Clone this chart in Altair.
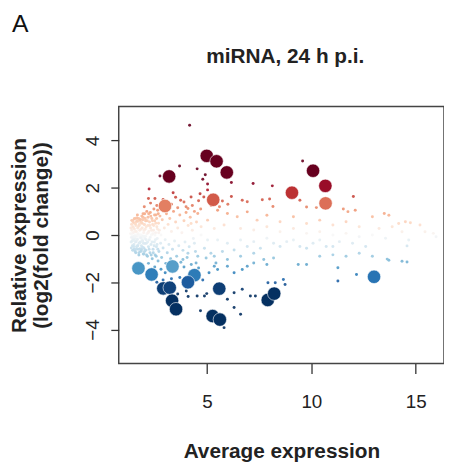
import altair as alt
import pandas as pd

# significant miRNAs (large points)
sig_x = [3.19, 4.99, 5.46, 5.95, 10.08, 10.67, 9.07, 10.68, 5.30, 2.99,
         1.72, 2.35, 3.35, 4.40, 4.09, 2.91, 3.22, 3.33, 3.52, 5.59,
         5.27, 5.62, 7.91, 8.22, 13.0]
sig_y = [2.48, 3.35, 3.12, 2.65, 2.72, 2.08, 1.79, 1.34, 1.49, 1.23,
         -1.41, -1.67, -1.33, -1.70, -2.0, -2.26, -2.23, -2.78, -3.14, -2.27,
         -3.43, -3.58, -2.75, -2.48, -1.77]

# all other miRNAs (small points)
bg_x = [4.17, 3.69, 2.75, 4.53, 4.80, 4.92, 5.03, 6.17, 7.21, 8.13, 9.58,
        2.23, 3.38, 4.67, 5.03, 4.85, 4.24, 3.74, 2.51, 6.17, 5.74, 6.69, 6.93,
        7.65, 8.00, 8.16, 9.45, 9.77, 10.24, 12.01, 11.53, 11.75, 12.1, 12.92,
        13.49, 13.71, 14.18, 14.5, 14.74, 15.2, 15.84, 15.97, 14.66, 14.58,
        13.71, 13.63, 14.58, 14.34, 12.16, 11.27, 11.27,
        5.43, 5.35, 5.51, 6.3, 6.69, 7.24, 7.72, 8.19, 8.66, 8.74, 8.27, 7.92,
        6.69, 6.3, 7.08, 7.32, 5.98, 6.3, 6.61, 4.69, 4.88, 4.99, 4.53, 4.01,
        5.82, 8.43, 9.37, 9.77, 10.4, 11.03, 11.66, 12.29, 12.92, 12.6, 11.97,
        11.34, 10.71, 10.08, 9.45, 8.82, 8.19, 7.56, 6.93, 6.3, 5.74, 5.19,
        4.88, 4.4, 4.09, 3.85, 4.48, 4.96,
        5.51, 5.98, 6.45, 6.93, 7.40, 7.87, 8.5, 9.14, 9.77, 10.4, 11.03, 11.66,
        12.29, 13.24, 13.87, 14.34, 15.44, 5.03, 4.56, 4.09, 4.24, 4.72, 5.35,
        5.82, 6.61, 7.24, 7.87, 8.5, 9.14, 9.77, 10.4, 11.03, 11.66, 12.29,
        12.92, 13.55,
        5.51, 5.98, 6.61, 7.24, 7.87, 8.5, 9.14, 9.77, 10.4, 11.03, 5.03, 4.72,
        5.35, 5.98, 6.61, 7.24, 7.87, 6.93, 5.98, 4.56,
        1.35, 1.38, 1.40, 1.42, 1.45, 1.47, 1.48, 1.50, 1.52, 1.53, 1.55, 1.57,
        1.58, 1.60, 1.62, 1.63, 1.65, 1.66, 1.68, 1.70, 1.72, 1.73, 1.75, 1.76,
        1.78, 1.80, 1.82, 1.83, 1.85, 1.86, 1.88, 1.90, 1.92, 1.93, 1.95, 1.97,
        1.98, 2.00, 2.02, 2.03, 2.05, 2.07, 2.08, 2.10, 2.12, 2.13, 2.15, 2.17,
        2.18, 2.20, 2.22, 2.24, 2.25, 2.27, 2.29, 2.30, 2.32, 2.34, 2.36, 2.38,
        2.40, 2.42, 2.44, 2.46, 2.48, 2.50, 2.52, 2.54, 2.56, 2.58, 2.60, 2.62,
        2.64, 2.66, 2.68, 2.70, 2.72, 2.75, 2.78, 2.80, 2.83, 2.86, 2.90, 2.93,
        2.96, 3.00, 3.03, 3.06, 3.10, 3.14, 3.18, 3.22, 3.26, 3.30, 3.35, 3.40,
        3.45, 3.50, 3.55, 3.60, 3.65, 3.70, 3.75, 3.80, 3.85, 3.90, 3.95, 4.00,
        4.05, 4.10, 4.15, 4.20, 4.25, 4.30, 4.35, 4.40, 4.45, 4.50,
        1.36, 1.37, 1.39, 1.41, 1.43, 1.44, 1.46, 1.49, 1.51, 1.54, 1.56, 1.59,
        1.61, 1.64, 1.67, 1.69, 1.71, 1.74, 1.77, 1.79, 1.81, 1.84, 1.87, 1.89,
        1.91, 1.94, 1.96, 1.99, 2.01, 2.04, 2.06, 2.09, 2.11, 2.14, 2.16, 2.19,
        2.21, 2.23, 2.26, 2.28, 2.31, 2.33, 2.35, 2.37, 2.39, 2.41, 2.43, 2.45,
        2.47, 2.49, 2.51, 2.53, 2.55, 2.57, 2.59, 2.61, 2.63, 2.65, 2.67, 2.69,
        2.2, 2.5, 2.8, 3.0, 3.2, 3.5, 3.7, 3.9, 4.2, 4.6, 2.9, 3.6, 4.1, 2.6,
        4.8, 5.1, 3.3,
        2.0, 2.3, 2.6, 2.9, 3.3, 3.6, 3.9, 4.3, 4.6, 2.2, 3.5, 4.0, 4.7, 5.2,
        5.6, 6.0,
        1.40, 1.46, 1.52, 1.58, 1.64, 1.70, 1.76, 1.82, 1.88, 1.94, 2.00, 2.06,
        1.43, 1.49, 1.55, 1.61, 1.67, 1.73, 1.79, 1.85, 1.91, 1.97, 2.03, 2.09,
        1.38, 1.44, 1.50, 1.56, 1.62, 1.68, 1.74, 1.80, 1.86, 1.92, 1.98, 2.04]
bg_y = [4.65, 2.92, 2.50, 2.80, 2.36, 2.55, 2.16, 2.22, 2.18, 2.08, 3.13,
        1.95, 1.79, 1.75, 1.91, 1.61, 1.61, 1.47, 1.55, 1.63, 1.44, 1.47, 1.41,
        1.49, 1.52, 1.21, 1.47, 1.19, 1.16, 1.63, 1.10, 0.99, 1.05, 0.77,
        0.91, 0.84, 0.49, 0.56, 0.52, 0.42, 0.07, -0.07, -0.21, -0.46,
        -1.07, -1.02, -1.14, -1.11, -1.67, -1.39, -1.95,
        -1.18, -1.32, -1.46, -1.6, -1.46, -1.18, -1.04, -0.97, -1.88, -2.09, -2.02, -2.02,
        -2.3, -2.44, -2.58, -2.58, -2.72, -3.07, -3.35, -3.21, -2.58, -2.48, -2.58, -2.37,
        -3.92, -2.61, -1.25, -1.25, -0.9, -0.84, -0.9, -0.77, -0.9, -0.49, -0.35,
        -0.28, -0.49, -0.35, -0.49, -0.28, -0.35, -0.56, -0.49, -0.63, -0.7, -0.77,
        -0.56, -0.35, -0.77, -1.04, -1.18, -0.97,
        1.05, 0.91, 0.77, 0.98, 0.63, 0.84, 0.56, 0.77, 0.49, 0.63, 0.42, 0.56,
        0.35, 0.28, 0.35, 0.14, 0.14, 0.63, 0.91, 1.12, 0.49, 0.35, 0.28,
        0.42, 0.28, 0.21, 0.35, 0.14, 0.28, 0.07, 0.14, 0.0, 0.07, -0.07,
        0.0, -0.14,
        -0.21, -0.35, -0.21, -0.28, -0.14, -0.49, -0.21, -0.56, -0.21, -0.49, -0.21, 0.0,
        -0.9, -1.04, -0.9, -0.77, -1.25, -1.32, -1.32, -0.9,
        0.05, -0.1, 0.2, -0.25, 0.35, 0.1, -0.05, -0.4, 0.5, 0.25, -0.15, 0.0,
        -0.3, 0.4, 0.15, -0.5, 0.6, -0.2, 0.3, 0.05, -0.6, 0.7, -0.35, 0.45,
        0.2, -0.1, -0.7, 0.55, 0.0, -0.45, 0.8, 0.3, -0.25, 0.65, -0.8, 0.1,
        -0.55, 0.45, 0.9, -0.15, 0.25, -0.65, 0.6, -0.35, 1.0, 0.05, -0.9, 0.4,
        0.75, -0.5, 0.15, -0.2, 0.55, -0.75, 0.95, 0.3, -0.4, 0.0, 0.7, -1.0,
        0.45, -0.6, 0.2, 1.1, -0.3, 0.6, -0.85, 0.1, 0.85, -0.5, 0.35, -0.15,
        1.05, -1.1, 0.5, -0.7, 0.2, 0.8, -0.35, 0.0, -0.95, 0.65, -0.55, 1.15,
        0.3, -0.2, -1.2, 0.9, -0.75, 0.45, -0.4, 0.7, -1.0, 0.15, -0.6, 1.0,
        -0.25, 0.55, -0.9, 0.3, -0.45, 0.85, -1.15, 0.1, -0.65, 0.6, -0.3, 1.2,
        -0.95, 0.4, -0.5, 0.75, -1.25, 0.2, -0.15, 1.0, -0.7, 0.55,
        0.3, -0.3, 0.45, 0.0, -0.45, 0.6, -0.2, 0.3, -0.6, 0.7, 0.15, -0.75,
        0.55, -0.05, 0.85, -0.45, 0.35, -0.85, 0.0, 0.65, -0.3, 0.25, -0.6, 0.5,
        -0.05, 0.9, -0.35, 0.2, -0.7, 0.7, -0.05, 0.35, -0.85, 0.6, -0.3, 0.1,
        0.9, -0.6, 0.4, -0.1, 0.8, -0.85, 0.2, -0.3, 0.6, 0.05, -0.75, 0.4,
        -0.45, 0.85, 0.0, -0.2, 0.5, -0.9, 0.7, -0.4, 0.25, -0.6, 0.9, 0.1,
        -1.2, -1.35, -1.45, -1.6, -1.15, -1.5, -1.8, -1.35, -1.55, -1.4, -1.9, -2.5, -2.6, -2.0,
        -1.9, -1.6, -1.85,
        1.2, 1.35, 1.25, 1.5, 1.3, 1.15, 1.4, 1.25, 1.45, 1.55, 1.6, 0.95, 1.1, 1.25,
        1.2, 1.3,
        0.62, 0.55, 0.68, 0.48, 0.72, 0.58, 0.4, 0.66, 0.52, 0.75, 0.44, 0.6,
        -0.12, -0.22, -0.08, -0.28, -0.18, -0.02, -0.32, -0.14, -0.24, -0.06, -0.36, -0.2,
        -0.55, -0.65, -0.5, -0.7, -0.6, -0.45, -0.75, -0.58, -0.68, -0.52, -0.8, -0.62]

panel_label = ["A"]
title_text = "miRNA, 24 h p.i."
x_ticks = [5, 10, 15]
y_ticks = [-4, -2, 0, 2, 4]

# RdBu palette stops (log2 fold change -> colour)
color_stops = [-2.4, -1.92, -1.44, -0.96, -0.48, 0, 0.48, 0.96, 1.44, 1.92, 2.4]
color_range = ["#053061", "#2166ac", "#4393c3", "#92c5de", "#d1e5f0", "#f7f7f7",
               "#fddbc7", "#f4a582", "#d6604d", "#b2182b", "#67001f"]

bg = pd.DataFrame({"A": bg_x, "M": bg_y})
sig = pd.DataFrame({"A": sig_x, "M": sig_y})

FONT = "Liberation Sans"
xscale = alt.Scale(domain=[0.776, 16.35], nice=False, zero=False)
yscale = alt.Scale(domain=[-5.44, 5.44], nice=False, zero=False)
cscale = alt.Scale(domain=color_stops, range=color_range, clamp=True)

xaxis = alt.Axis(values=x_ticks, title="Average expression", domain=False, grid=False,
                 tickSize=10, tickColor="#333", tickWidth=1.3, labelFontSize=19,
                 labelFont=FONT, labelColor="#222", labelPadding=19,
                 titleFontSize=21, titleFont=FONT, titleFontWeight="bold",
                 titlePadding=30, titleColor="#222")
yaxis = alt.Axis(values=y_ticks, title=["Relative expression", "(log2(fold change))"],
                 domain=False, grid=False, tickSize=8, tickColor="#333", tickWidth=1.3,
                 labelFontSize=19, labelFont=FONT, labelColor="#222", labelAngle=-90,
                 labelAlign="center", labelBaseline="bottom", labelPadding=8,
                 titleFontSize=21, titleFont=FONT, titleFontWeight="bold",
                 titlePadding=33, titleColor="#222", titleLineHeight=22)

small = alt.Chart(bg).mark_circle(size=9, opacity=0.9).encode(
    x=alt.X("A:Q", scale=xscale, axis=xaxis),
    y=alt.Y("M:Q", scale=yscale, axis=yaxis),
    color=alt.Color("M:Q", scale=cscale, legend=None),
)

big = alt.Chart(sig).mark_circle(size=185, opacity=1, stroke="white", strokeWidth=0.6).encode(
    x=alt.X("A:Q", scale=xscale),
    y=alt.Y("M:Q", scale=yscale),
    color=alt.Color("M:Q", scale=cscale, legend=None),
)

label = alt.Chart(pd.DataFrame({"t": panel_label})).mark_text(
    font=FONT, fontSize=25, align="left", baseline="top", color="#111"
).encode(text="t:N", x=alt.value(-108), y=alt.value(-95))

chart = alt.layer(small, big, label).properties(
    width=329, height=260,
    title=alt.TitleParams(title_text, font=FONT, fontSize=21, fontWeight="bold",
                          color="#222", offset=38, anchor="middle", frame="group",
                          dy=93, dx=4),
    autosize=alt.AutoSizeParams(type="none"),
    padding={"left": 112, "top": 97, "right": 0, "bottom": 100},
).configure_view(stroke="#444", strokeWidth=1.5)

chart.save("out.html", embed_options={"renderer": "svg", "actions": False})
